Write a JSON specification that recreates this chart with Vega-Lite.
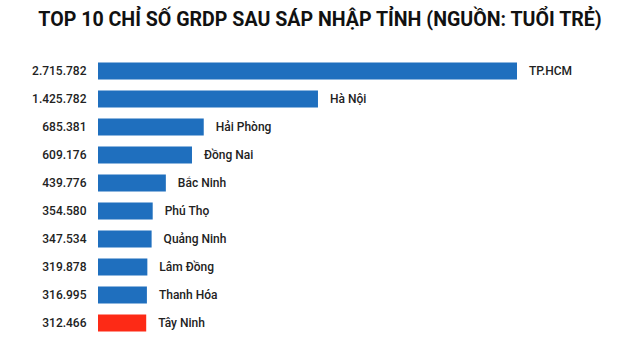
{
  "$schema": "https://vega.github.io/schema/vega-lite/v6.json",
  "autosize": {"type": "none"},
  "width": 444,
  "height": 280,
  "padding": {"left": 98, "top": 57, "right": 98, "bottom": 23},
  "background": "white",
  "title": {
    "text": "TOP 10 CHỈ SỐ GRDP SAU SÁP NHẬP TỈNH (NGUỒN: TUỔI TRẺ)",
    "anchor": "middle",
    "font": "Roboto",
    "fontSize": 19.6,
    "fontWeight": "bold",
    "color": "#111111",
    "offset": 26
  },
  "data": {
    "values": [
      {"tinh": "TP.HCM", "grdp": 2715782, "nhan": "2.715.782", "mau": "xanh"},
      {"tinh": "Hà Nội", "grdp": 1425782, "nhan": "1.425.782", "mau": "xanh"},
      {"tinh": "Hải Phòng", "grdp": 685381, "nhan": "685.381", "mau": "xanh"},
      {"tinh": "Đồng Nai", "grdp": 609176, "nhan": "609.176", "mau": "xanh"},
      {"tinh": "Bắc Ninh", "grdp": 439776, "nhan": "439.776", "mau": "xanh"},
      {"tinh": "Phú Thọ", "grdp": 354580, "nhan": "354.580", "mau": "xanh"},
      {"tinh": "Quảng Ninh", "grdp": 347534, "nhan": "347.534", "mau": "xanh"},
      {"tinh": "Lâm Đồng", "grdp": 319878, "nhan": "319.878", "mau": "xanh"},
      {"tinh": "Thanh Hóa", "grdp": 316995, "nhan": "316.995", "mau": "xanh"},
      {"tinh": "Tây Ninh", "grdp": 312466, "nhan": "312.466", "mau": "do"}
    ]
  },
  "encoding": {
    "y": {
      "field": "nhan",
      "type": "nominal",
      "sort": {"field": "grdp", "order": "descending"},
      "scale": {"paddingInner": 0.4, "paddingOuter": 0.2},
      "axis": {
        "title": null,
        "domain": false,
        "ticks": false,
        "grid": false,
        "labelPadding": 12,
        "labelFont": "Roboto",
        "labelFontSize": 12,
        "labelFontWeight": 500,
        "labelColor": "#222222"
      }
    },
    "x": {
      "field": "grdp",
      "type": "quantitative",
      "scale": {"domain": [0, 2877800], "nice": false},
      "axis": null
    }
  },
  "layer": [
    {
      "mark": {"type": "bar"},
      "encoding": {
        "color": {
          "field": "mau",
          "type": "nominal",
          "scale": {"domain": ["xanh", "do"], "range": ["#1f6fbe", "#fd2a16"]},
          "legend": null
        }
      }
    },
    {
      "mark": {
        "type": "text",
        "align": "left",
        "baseline": "middle",
        "dx": 12,
        "font": "Roboto",
        "fontSize": 12,
        "fontWeight": 500,
        "color": "#222222"
      },
      "encoding": {"text": {"field": "tinh"}}
    }
  ],
  "config": {"view": {"stroke": null}}
}
